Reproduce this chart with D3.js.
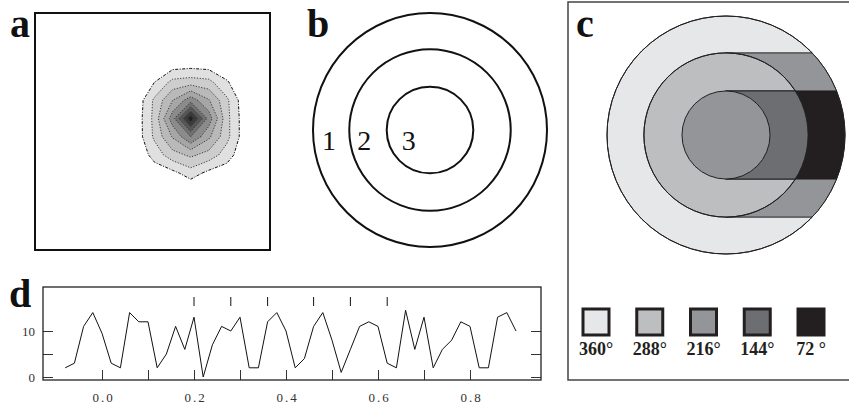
<!DOCTYPE html>
<html>
<head>
<meta charset="utf-8">
<script src="https://cdn.jsdelivr.net/npm/d3@7"></script>
<style>
  body { margin: 0; background: #fff; }
  svg { display: block; font-family: "Liberation Serif", "DejaVu Serif", serif; }
</style>
</head>
<body>
<div id="chart-area"></div>
<script>
// panel a: density field on a 9 x 9 lattice, rows from top to bottom
var fieldRows = [
  [0, 0,   0,   0,   0,   0,   0,   0,   0],
  [0, 0,   0.2, 0.4, 0.5, 0.4, 0.2, 0,   0],
  [0, 0.2, 1.0, 2.3, 2.5, 2.3, 1.1, 0.2, 0],
  [0, 0.3, 2.2, 4,   5.6, 4.1, 2.2, 0.3, 0],
  [0, 0.4, 2.3, 5.6, 9.6, 5.6, 2.3, 0.4, 0],
  [0, 0.4, 2.2, 4.1, 6,   4.2, 2.3, 0.4, 0],
  [0, 0.2, 1.4, 2.6, 3.2, 2.6, 1.5, 0.2, 0],
  [0, 0,   0.4, 0.7, 1.5, 0.7, 0.4, 0,   0],
  [0, 0,   0,   0,   0,   0,   0,   0,   0]
];
var fieldLevels = [1, 2, 3, 4, 5, 6, 7, 8, 9];

// panels b and c: three concentric rings (outer = 1)
var ringRadii = [1, 0.69, 0.37];
var ringLabels = ["1", "2", "3"];

// panel c legend
var legendLabels = ["360°", "288°", "216°", "144°", "72 °"];
var shades = ["#e6e7e8", "#bcbec0", "#939598", "#6d6e71", "#231f20"];

// panel d: trace
var signalX = [-0.08, -0.06, -0.04, -0.02, 0.00, 0.02, 0.04, 0.06, 0.08, 0.10,
  0.12, 0.14, 0.16, 0.18, 0.20, 0.22, 0.24, 0.26, 0.28, 0.30,
  0.32, 0.34, 0.36, 0.38, 0.40, 0.42, 0.44, 0.46, 0.48, 0.50,
  0.52, 0.54, 0.56, 0.58, 0.60, 0.62, 0.64, 0.66, 0.68, 0.70,
  0.72, 0.74, 0.76, 0.78, 0.80, 0.82, 0.84, 0.86, 0.88, 0.90];
var signalY = [2, 3, 11, 14, 9.5, 3, 2, 14, 12, 12,
  2, 5, 11, 6, 13, 0, 7, 11, 10, 13,
  2, 2, 12, 14, 10, 2, 4, 11, 14, 8,
  1, 6, 11, 12, 11, 3, 2, 14.5, 6, 13,
  2, 6, 8, 12, 11, 2, 2, 13, 14, 10];
var eventX = [0.20, 0.28, 0.36, 0.46, 0.54, 0.62];
var xTicks = [0, 0.1, 0.2, 0.3, 0.4, 0.5, 0.6, 0.7, 0.8];
var yTicks = [0, 5, 10];

var svg = d3.select("#chart-area")
  .append("svg")
  .attr("width", 849)
  .attr("height", 407);

function panelLetter(txt, x, y) {
  svg.append("text")
    .attr("x", x)
    .attr("y", y)
    .attr("font-size", "40px")
    .attr("font-weight", "bold")
    .attr("fill", "#111")
    .text(txt);
}

// ---------- a ----------
var gx = d3.scaleLinear().domain([0, 9]).range([109.3, 272.1]);
var gy = d3.scaleLinear().domain([0, 9]).range([36.5, 200.5]);
var fieldValues = [].concat.apply([], fieldRows);

var contours = d3.contours()
  .size([9, 9])
  .thresholds(fieldLevels)(fieldValues);

var fieldPath = d3.geoPath(d3.geoTransform({
  point: function(x, y) { this.stream.point(gx(x), gy(y)); }
}));

var shade = d3.scaleLinear()
  .domain([1, 4, 9])
  .range(["#e0e0e0", "#a6a6a6", "#202020"]);

svg.append("g").selectAll("path")
  .data(contours)
  .enter().append("path")
  .attr("d", fieldPath)
  .attr("fill", d => shade(d.value))
  .attr("stroke", d => d.value == 1 ? "#111" : "#3a3a3a")
  .attr("stroke-width", 1)
  .attr("stroke-dasharray", d => d.value == 1 ? "3,1.5,1,1.5" : "1.2,1.6");

svg.append("rect")
  .attr("x", 35)
  .attr("y", 13)
  .attr("width", 235)
  .attr("height", 237)
  .attr("fill", "none")
  .attr("stroke", "#111")
  .attr("stroke-width", 2);

panelLetter("a", 10, 37);

// ---------- b ----------
var rb = d3.scaleLinear().domain([0, 1]).range([0, 117]);
var bx = 430, by = 130;
var labelInset = [16, 15, 22];

svg.append("g").selectAll("circle")
  .data(ringRadii)
  .enter().append("circle")
  .attr("cx", bx)
  .attr("cy", by)
  .attr("r", d => rb(d))
  .attr("fill", "none")
  .attr("stroke", "#111")
  .attr("stroke-width", 2);

svg.append("g").selectAll("text")
  .data(ringLabels)
  .enter().append("text")
  .attr("x", (d, i) => bx - rb(ringRadii[i]) + labelInset[i])
  .attr("y", by + 20)
  .attr("text-anchor", "middle")
  .attr("font-size", "28px")
  .attr("fill", "#111")
  .text(d => d);

panelLetter("b", 307, 37);

// ---------- c ----------
var rc = d3.scaleLinear().domain([0, 1]).range([0, 119]);
var cx = 726, cy = 135;
var defs = svg.append("defs");
defs.append("clipPath").attr("id", "clip-outer")
  .append("circle").attr("cx", cx).attr("cy", cy).attr("r", rc(ringRadii[0]));
defs.append("clipPath").attr("id", "clip-mid")
  .append("circle").attr("cx", cx).attr("cy", cy).attr("r", rc(ringRadii[1]));

var gc = svg.append("g")
  .attr("stroke", "#231f20")
  .attr("stroke-width", 1);

gc.append("circle")
  .attr("cx", cx).attr("cy", cy)
  .attr("r", rc(ringRadii[0]))
  .attr("fill", shades[0]);

// middle ring swept right
gc.append("rect")
  .attr("clip-path", "url(#clip-outer)")
  .attr("x", cx)
  .attr("y", cy - rc(ringRadii[1]))
  .attr("width", 200)
  .attr("height", 2 * rc(ringRadii[1]))
  .attr("fill", shades[2]);

gc.append("circle")
  .attr("cx", cx).attr("cy", cy)
  .attr("r", rc(ringRadii[1]))
  .attr("fill", shades[1]);

// inner ring swept right
gc.append("rect")
  .attr("clip-path", "url(#clip-outer)")
  .attr("x", cx)
  .attr("y", cy - rc(ringRadii[2]))
  .attr("width", 200)
  .attr("height", 2 * rc(ringRadii[2]))
  .attr("fill", shades[4]);

gc.append("rect")
  .attr("clip-path", "url(#clip-mid)")
  .attr("x", cx)
  .attr("y", cy - rc(ringRadii[2]))
  .attr("width", 200)
  .attr("height", 2 * rc(ringRadii[2]))
  .attr("fill", shades[3]);

gc.append("circle")
  .attr("cx", cx).attr("cy", cy)
  .attr("r", rc(ringRadii[1]))
  .attr("fill", "none");

gc.append("circle")
  .attr("cx", cx).attr("cy", cy)
  .attr("r", rc(ringRadii[2]))
  .attr("fill", shades[2]);

gc.append("circle")
  .attr("cx", cx).attr("cy", cy)
  .attr("r", rc(ringRadii[0]))
  .attr("fill", "none");

var lx = d3.scalePoint()
  .domain(legendLabels)
  .range([596, 811]);

var legend = svg.append("g").selectAll("g")
  .data(legendLabels)
  .enter().append("g")
  .attr("transform", d => "translate(" + lx(d) + ",0)");

legend.append("rect")
  .attr("x", -13)
  .attr("y", 309)
  .attr("width", 26)
  .attr("height", 26)
  .attr("fill", (d, i) => shades[i])
  .attr("stroke", "#231f20")
  .attr("stroke-width", 3);

legend.append("text")
  .attr("y", 355)
  .attr("text-anchor", "middle")
  .attr("font-size", "18px")
  .attr("font-weight", "bold")
  .attr("fill", "#231f20")
  .text(d => d);

svg.append("rect")
  .attr("x", 568)
  .attr("y", 2)
  .attr("width", 290)
  .attr("height", 378)
  .attr("fill", "none")
  .attr("stroke", "#444")
  .attr("stroke-width", 1.5);

panelLetter("c", 576, 37);

// ---------- d ----------
var x = d3.scaleLinear().domain([0, 0.2]).range([102, 194]);
var y = d3.scaleLinear().domain([0, 10]).range([377, 331]);

var xAxis = svg.append("g")
  .attr("transform", "translate(0,380)")
  .call(d3.axisBottom(x)
    .tickValues(xTicks)
    .tickSize(-10)
    .tickPadding(13)
    .tickFormat((d, i) => i % 2 == 0 ? d3.format(".1f")(d) : ""));

var yAxis = svg.append("g")
  .attr("transform", "translate(43,0)")
  .call(d3.axisLeft(y)
    .tickValues(yTicks)
    .tickSize(-10)
    .tickPadding(8)
    .tickFormat(d => d == 5 ? "" : d));

var yAxisRight = svg.append("g")
  .attr("transform", "translate(541,0)")
  .call(d3.axisRight(y)
    .tickValues(yTicks)
    .tickSize(-10)
    .tickFormat(""));

svg.selectAll(".domain").remove();
svg.selectAll(".tick line").attr("stroke", "#333");
svg.selectAll(".tick text")
  .attr("font-family", "Liberation Serif, serif")
  .attr("font-size", "13px")
  .attr("fill", "#333");
xAxis.selectAll(".tick text")
  .attr("letter-spacing", "2px")
  .attr("dx", "1px");

svg.append("rect")
  .attr("x", 43)
  .attr("y", 287)
  .attr("width", 498)
  .attr("height", 93)
  .attr("fill", "none")
  .attr("stroke", "#222")
  .attr("stroke-width", 1.3);

svg.append("g").selectAll("line")
  .data(eventX)
  .enter().append("line")
  .attr("x1", d => x(d))
  .attr("x2", d => x(d))
  .attr("y1", 297)
  .attr("y2", 306)
  .attr("stroke", "#111");

var line = d3.line()
  .x((d, i) => x(signalX[i]))
  .y(d => y(d));

svg.append("path")
  .datum(signalY)
  .attr("d", line)
  .attr("fill", "none")
  .attr("stroke", "#111")
  .attr("stroke-width", 1);

panelLetter("d", 9, 307);
</script>
</body>
</html>
